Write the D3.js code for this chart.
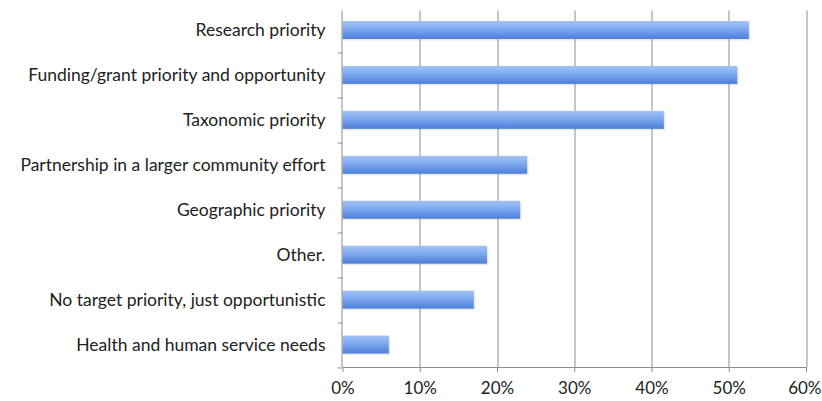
<!DOCTYPE html>
<html>
<head>
<meta charset="utf-8">
<script src="https://cdn.jsdelivr.net/npm/d3@7"></script>
<style>
  body { margin: 0; background: #fff; }
  svg text { font-family: Lato, "Open Sans", sans-serif; fill: #222; }
</style>
</head>
<body>
<script>
// categories top to bottom, share of respondents
var categories = [
  'Research priority',
  'Funding/grant priority and opportunity',
  'Taxonomic priority',
  'Partnership in a larger community effort',
  'Geographic priority',
  'Other.',
  'No target priority, just opportunistic',
  'Health and human service needs'
];
var values = [0.526, 0.511, 0.416, 0.239, 0.230, 0.187, 0.170, 0.060];
var xTicks = [0, 0.1, 0.2, 0.3, 0.4, 0.5, 0.6];

var width = 822, height = 401;
var margin = {top: 7.5, right: 16, bottom: 34, left: 342.5};
var w = width - margin.left - margin.right,
    h = height - margin.top - margin.bottom;

var svg = d3.select('body').append('svg')
  .attr('width', width)
  .attr('height', height);

var defs = svg.append('defs');
var grad = defs.append('linearGradient')
  .attr('id', 'barFill')
  .attr('x1', 0).attr('y1', 0).attr('x2', 0).attr('y2', 1);
grad.append('stop').attr('offset', '0%').attr('stop-color', '#a3c3f4');
grad.append('stop').attr('offset', '45%').attr('stop-color', '#7ea8ef');
grad.append('stop').attr('offset', '100%').attr('stop-color', '#4a7fd8');

var g = svg.append('g')
  .attr('transform', 'translate(' + margin.left + ',' + margin.top + ')');

var x = d3.scaleLinear().domain([0, 0.6]).range([0, w]);
var y = d3.scaleBand().domain(categories).range([0, h]).paddingInner(0.6).paddingOuter(0.3);

// vertical gridlines
g.append('g')
  .selectAll('line')
  .data(xTicks.slice(1))
  .enter().append('line')
    .attr('x1', function(d) { return Math.round(x(d)) + 0.5; })
    .attr('x2', function(d) { return Math.round(x(d)) + 0.5; })
    .attr('y1', 3)
    .attr('y2', h)
    .attr('stroke', '#8c8c8c')
    .attr('stroke-width', 1);

// bar shadows
g.append('g')
  .selectAll('rect')
  .data(values)
  .enter().append('rect')
    .attr('x', 0)
    .attr('y', function(d, i) { return y(categories[i]) + 1.5; })
    .attr('width', function(d) { return x(d) + 1.5; })
    .attr('height', y.bandwidth())
    .attr('fill', '#000')
    .attr('opacity', 0.09);

// bars
g.append('g')
  .selectAll('rect')
  .data(values)
  .enter().append('rect')
    .attr('x', 0)
    .attr('y', function(d, i) { return y(categories[i]); })
    .attr('width', function(d) { return x(d); })
    .attr('height', y.bandwidth())
    .attr('fill', 'url(#barFill)');

// x axis
var xAxis = g.append('g')
  .attr('transform', 'translate(0,' + h + ')')
  .call(d3.axisBottom(x).tickValues(xTicks).tickFormat(d3.format('.0%')).tickSize(5).tickSizeOuter(0));
xAxis.select('.domain').attr('stroke', '#8c8c8c');
xAxis.selectAll('.tick line').attr('stroke', '#8c8c8c');
xAxis.selectAll('text').attr('font-size', 17).attr('dy', '1.1em').attr('fill', '#333');
// keep the last label inside the page
xAxis.selectAll('.tick:last-of-type text').attr('text-anchor', 'end').attr('x', 15);

// y axis with ticks on category boundaries
var yAxisG = g.append('g');
yAxisG.append('line')
  .attr('x1', -0.5).attr('x2', -0.5)
  .attr('y1', 3).attr('y2', h)
  .attr('stroke', '#8c8c8c');
var step = h / categories.length;
yAxisG.selectAll('line.tk')
  .data(d3.range(1, categories.length + 1))
  .enter().append('line')
    .attr('class', 'tk')
    .attr('x1', -5).attr('x2', 0)
    .attr('y1', function(d) { return Math.round(d * step) + 0.5; })
    .attr('y2', function(d) { return Math.round(d * step) + 0.5; })
    .attr('stroke', '#8c8c8c');
yAxisG.selectAll('text')
  .data(categories)
  .enter().append('text')
    .attr('x', -17)
    .attr('y', function(d) { return y(d) + y.bandwidth() / 2; })
    .attr('dy', '0.35em')
    .attr('text-anchor', 'end')
    .attr('font-size', 17.5)
    .text(function(d) { return d; });
</script>
</body>
</html>
